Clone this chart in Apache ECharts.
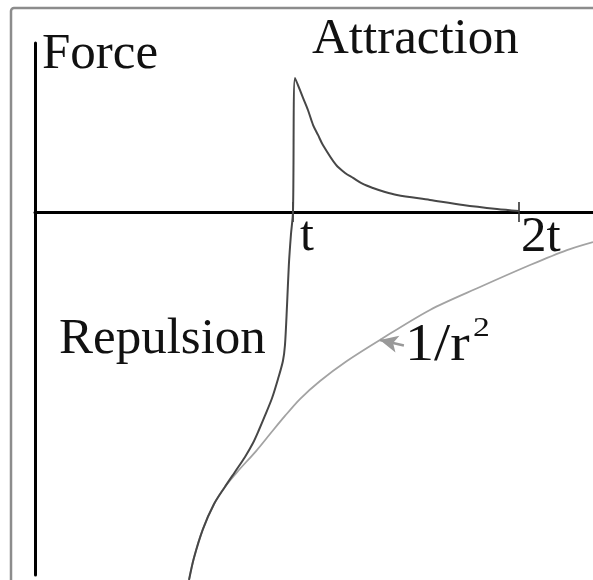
<!DOCTYPE html>
<html>
<head>
  <meta charset="utf-8">
  <title>Force</title>
  <script src="https://cdn.jsdelivr.net/npm/echarts@6/dist/echarts.min.js"></script>
  <style>html,body{margin:0;background:#fff;}</style>
</head>
<body>
  <div id="main" style="width:593px;height:580px;"></div>
  <script type="text/javascript">
    // x is in units of t, force is scaled so the attraction peak is 1
    var tickValues = [1, 1.876];
    var tickLabels = ['t', '2t'];

    // attraction / repulsion curve
    var forceX = [0.597, 0.616, 0.651, 0.694, 0.736, 0.775, 0.814, 0.845, 0.868, 0.891,
      0.919, 0.942, 0.961, 0.969, 0.977, 0.984, 0.992, 1.000,
      1.008, 1.039, 1.058, 1.078, 1.097, 1.116, 1.167, 1.202, 1.233, 1.271,
      1.310, 1.357, 1.403, 1.531, 1.659, 1.791, 1.876];
    var forceY = [-2.746, -2.582, -2.366, -2.179, -2.052, -1.940, -1.828, -1.724, -1.627, -1.522,
      -1.388, -1.246, -1.112, -0.993, -0.694, -0.396, -0.172, 0,
      1.000, 0.851, 0.761, 0.649, 0.575, 0.500, 0.351, 0.291, 0.254, 0.209,
      0.179, 0.149, 0.127, 0.090, 0.052, 0.022, 0.007];

    // 1/r^2 reference curve (joins the force curve at short range)
    var inverseX = [0.597, 0.616, 0.651, 0.694, 0.736, 0.787, 0.857, 0.911, 0.969, 1.027,
      1.105, 1.209, 1.337, 1.531, 1.725, 1.919, 2.062, 2.163];
    var inverseY = [-2.746, -2.582, -2.366, -2.179, -2.052, -1.933, -1.784, -1.657, -1.522, -1.396,
      -1.261, -1.112, -0.955, -0.731, -0.560, -0.396, -0.284, -0.224];

    // arrow pointing at the 1/r^2 curve: [tail, head]
    var arrowFrom = [1.430, -0.997];
    var arrowTo = [1.337, -0.955];

    function pairs(xs, ys) {
      return xs.map(function (x, i) { return [x, ys[i]]; });
    }

    var serif = '"Liberation Serif", "Times New Roman", serif';
    var myChart = echarts.init(document.getElementById('main'), null, { renderer: 'canvas' });

    // the x axis sits at force = 0, which is 363px above the bottom of the grid
    var zeroOffset = -363;
    var xBase = {
      type: 'value',
      min: 0,
      max: 2.163,
      position: 'bottom',
      offset: zeroOffset,
      splitLine: { show: false }
    };
    var tickStyle = { color: '#333', width: 1.6 };

    var option = {
      backgroundColor: '#fff',
      animation: false,
      grid: { left: 35, right: 0, top: 43, bottom: 5, outerBoundsMode: 'none' },
      xAxis: [
        Object.assign({}, xBase, {
          axisLine: { onZero: false, lineStyle: { color: '#000', width: 3 } },
          axisTick: { show: true, inside: false, length: 10, customValues: tickValues, lineStyle: tickStyle },
          axisLabel: {
            customValues: tickValues,
            margin: 0,
            align: 'left',
            formatter: function (v) {
              var i = tickValues.indexOf(v);
              return i === 0 ? '{a|' + tickLabels[0] + '}' : '{b|' + tickLabels[1] + '}';
            },
            rich: {
              a: { fontFamily: serif, fontSize: 50, color: '#111', padding: [0, 0, 0, 7] },
              b: { fontFamily: serif, fontSize: 51, color: '#111', padding: [0, 0, 0, 2] }
            }
          }
        }),
        Object.assign({}, xBase, {
          axisLine: { show: false, onZero: false },
          axisTick: { show: true, inside: true, length: 10, customValues: tickValues, lineStyle: tickStyle },
          axisLabel: { show: false }
        })
      ],
      yAxis: {
        type: 'value',
        min: -2.709,
        max: 1.261,
        axisLine: { show: true, onZero: false, lineStyle: { color: '#000', width: 3 } },
        axisTick: { show: false },
        axisLabel: { show: false },
        splitLine: { show: false }
      },
      series: [
        {
          name: '1/r²',
          type: 'line',
          data: pairs(inverseX, inverseY),
          showSymbol: false,
          smooth: 0.3,
          clip: false,
          lineStyle: { color: '#a3a3a3', width: 1.8 },
          markLine: {
            silent: true,
            symbol: ['none', 'arrow'],
            symbolSize: [13, 18],
            label: { show: false },
            lineStyle: { color: '#999', width: 2.5, type: 'solid' },
            data: [[{ coord: arrowFrom }, { coord: arrowTo }]]
          }
        },
        {
          name: 'Force',
          type: 'line',
          data: pairs(forceX, forceY),
          showSymbol: false,
          smooth: 0.3,
          clip: false,
          lineStyle: { color: '#474747', width: 2 }
        }
      ],
      graphic: [
        {
          type: 'rect',
          shape: { x: 11, y: 8, width: 700, height: 700, r: 3 },
          style: { fill: 'none', stroke: '#8c8c8c', lineWidth: 2.5 }
        },
        { type: 'text', x: 42, y: 29, style: { text: 'Force', font: '51px ' + serif, fill: '#111', verticalAlign: 'top', textVerticalAlign: 'top' } },
        { type: 'text', x: 312, y: 14, style: { text: 'Attraction', font: '51px ' + serif, fill: '#111', verticalAlign: 'top', textVerticalAlign: 'top' } },
        { type: 'text', x: 59, y: 314, style: { text: 'Repulsion', font: '51px ' + serif, fill: '#111', verticalAlign: 'top', textVerticalAlign: 'top' } },
        { type: 'text', x: 405, y: 320, scaleX: 1.12, style: { text: '1/r', font: '52px ' + serif, fill: '#111', verticalAlign: 'top', textVerticalAlign: 'top' } },
        { type: 'text', x: 473, y: 315, scaleX: 1.2, style: { text: '2', font: '28px ' + serif, fill: '#111', verticalAlign: 'top', textVerticalAlign: 'top' } }
      ]
    };

    myChart.setOption(option);
  </script>
</body>
</html>
